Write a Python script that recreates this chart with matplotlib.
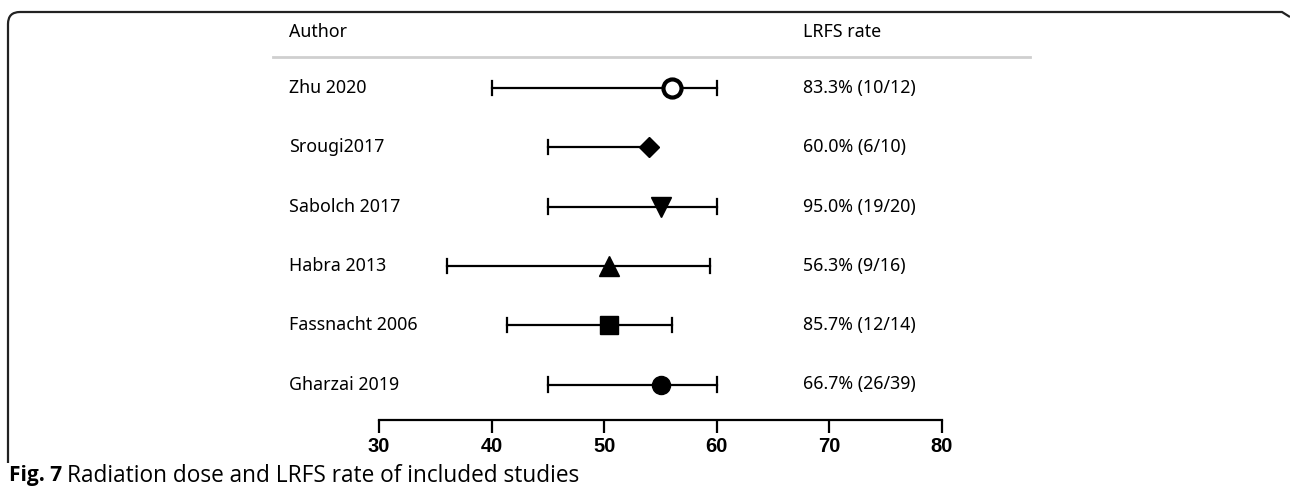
import matplotlib
matplotlib.use("Agg")
import matplotlib.pyplot as plt
from matplotlib.path import Path
from matplotlib.patches import PathPatch

# data
authors = ["Zhu 2020", "Srougi2017", "Sabolch 2017", "Habra 2013", "Fassnacht 2006", "Gharzai 2019"]
dose_low = [40, 45, 45, 36, 41.4, 45]
dose_high = [60, 54, 60, 59.4, 56, 60]
dose_mid = [56, 54, 55, 50.4, 50.4, 55]
markers = ["o", "D", "v", "^", "s", "o"]
filled = [False, True, True, True, True, True]
marker_size = [13, 10, 14, 14, 13, 13]
lrfs = ["83.3% (10/12)", "60.0% (6/10)", "95.0% (19/20)", "56.3% (9/16)", "85.7% (12/14)", "66.7% (26/39)"]
ticks = [30, 40, 50, 60, 70, 80]

W, H = 1290, 493
fig = plt.figure(figsize=(W / 100, H / 100), dpi=100)

def fx(px):
    return px / W

def fy(py):
    return 1 - py / H

row0, step = 88, 59.3
x_lo_px, x_hi_px = 379, 942
ax = fig.add_axes([fx(x_lo_px), 0, fx(x_hi_px - x_lo_px), 1])
ax.set_xlim(30, 80)
ax.set_ylim((H - row0) / step, -row0 / step)
ax.patch.set_alpha(0)

for i in range(len(authors)):
    ax.plot([dose_low[i], dose_high[i]], [i, i], color="black", lw=1.6, zorder=2)
    for xv in (dose_low[i], dose_high[i]):
        ax.plot([xv, xv], [i - 0.12, i + 0.12], color="black", lw=1.6, zorder=2)
    ax.plot(dose_mid[i], i, marker=markers[i], ms=marker_size[i],
            mfc="black" if filled[i] else "white", mec="black",
            mew=3 if not filled[i] else 1, zorder=3)

axis_row = (420 - row0) / step
for s in ["top", "left", "right"]:
    ax.spines[s].set_visible(False)
ax.spines["bottom"].set_position(("data", axis_row))
ax.spines["bottom"].set_bounds(30, 80)
ax.spines["bottom"].set_linewidth(1.6)
ax.set_yticks([])
ax.set_xticks(ticks)
ax.set_xticklabels([str(t) for t in ticks], fontsize=14.5, fontweight="bold",
                   family="Liberation Sans")
ax.tick_params(axis="x", direction="out", length=9, width=1.6, pad=3)

# header
txt_font = "Noto Sans"
fs = 12.8
fig.text(fx(289), fy(32), "Author", fontsize=fs, family=txt_font, va="center")
fig.text(fx(803), fy(32), "LRFS rate", fontsize=fs, family=txt_font, va="center")
fig.add_artist(plt.Line2D([fx(273), fx(1030)], [fy(57), fy(57)], color="#cfcfcf", lw=2))

for i, (a, r) in enumerate(zip(authors, lrfs)):
    y = row0 + step * i
    fig.text(fx(289), fy(y), a, fontsize=fs, family=txt_font, va="center")
    fig.text(fx(803), fy(y), r, fontsize=fs, family=txt_font, va="center")

# frame with rounded top-left corner
verts = [(fx(8), fy(463)), (fx(8), fy(24)), (fx(8), fy(12)), (fx(20), fy(12)),
         (fx(1282), fy(12)), (fx(1290), fy(17))]
codes = [Path.MOVETO, Path.LINETO, Path.CURVE3, Path.CURVE3, Path.LINETO, Path.LINETO]
fig.add_artist(PathPatch(Path(verts, codes), fill=False, lw=1.6, edgecolor="#222222",
                         transform=fig.transFigure))

# caption
cap1 = fig.text(fx(9), fy(476), "Fig. 7", fontsize=15, fontweight="bold",
                family="Open Sans", va="center")
fig.canvas.draw()
bb = cap1.get_window_extent()
fig.text(bb.x1 / W + fx(5), fy(476), "Radiation dose and LRFS rate of included studies",
         fontsize=16.3, family="Open Sans", va="center")

fig.savefig("out.png", dpi=100)
